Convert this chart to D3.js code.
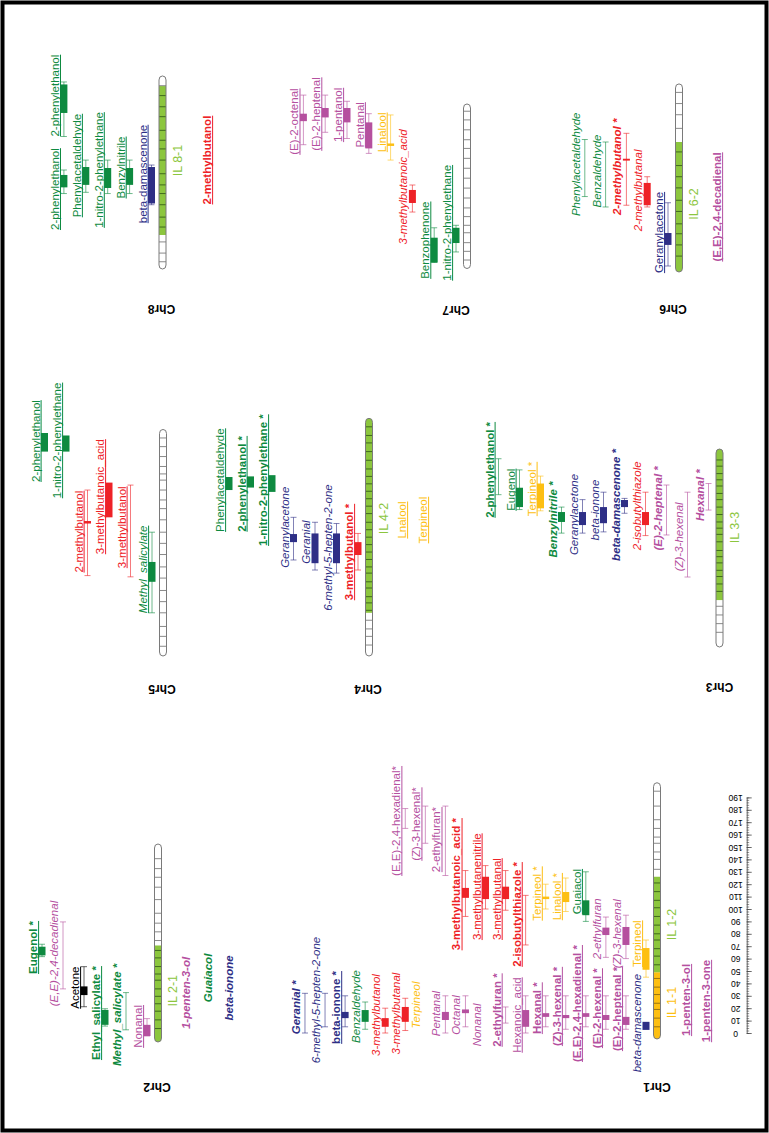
<!DOCTYPE html>
<html><head><meta charset="utf-8">
<script src="https://cdn.jsdelivr.net/npm/d3@7"></script>
<style>
body{margin:0;background:#fff}
svg{display:block}
text{font-family:"Liberation Sans",Arial,Helvetica,sans-serif}
</style>
</head><body>
<svg id="c" width="769" height="1133"></svg>
<script>
// ---------------- DATA (in cM) ----------------
const chromosomes = ["Chr1","Chr2","Chr3","Chr4","Chr5","Chr6","Chr7","Chr8"];
const chrLengths  = [197, 150, 150, 182, 173, 142, 123, 146];

// introgression lines: [chromosome, label, from cM, to cM, donor segment kind]
const introgressions = [
  ["Chr1","IL 1-1",0,49,"a"],
  ["Chr1","IL 1-2",49,126,"b"],
  ["Chr2","IL 2-1",0,73,"b"],
  ["Chr3","IL 3-3",33,150,"b"],
  ["Chr4","IL 4-2",30,182,"b"],
  ["Chr6","IL 6-2",0,100,"b"],
  ["Chr8","IL 8-1",22.6,142.7,"b"]
];

// marker positions (cM)
const markersChr1 = [5,12,19,24,31,37,44,55,62,68,75,80,87,94,101,107,114,121,132,140,146,153,158,165,172,183,195];
const markersChr2 = [6,13,20,26,32,38,45,50,56,63,69,77,84,91,99,110,120,128,135,143];
const markersChr3 = [7,14,21,28,40,46,52,57,63,68,73,80,86,91,96,102,108,114,119,125,130,135,141,146];
const markersChr4 = [4,11,17,24,32,38,43,50,55,62,67,73,79,85,91,97,103,110,116,122,128,134,140,146,153,160,167,173,180];
const markersChr5 = [3,11,19,30,39,48,58,67,77,86,95,105,114,121,129,137,142,148,156,164,171];
const markersChr6 = [8,17,26,34,44,53,63,72,81,92,111,122,131,140];
const markersChr7 = [2,9,16,24,30,37,44,52,60,68,76,84,92,99,107,115,122];
const markersChr8 = [1,8,17,29,37,47,56,63,72,83,92,99,107,118,126,135,143];

// QTLs: [column, label, compound class, significance code, box lo, box hi, whisker lo, whisker hi, label centre]
const qtlChr1 = [
  [0,"Geranial *","N","bi",null,null,0,32,20.6],
  [1,"6-methyl-5-hepten-2-one","N","i",null,null,5,32,26.6],
  [2,"beta-ionone *","N","bu",12,17,5,30,20.6],
  [3,"Benzaldehyde","G","i",9,18.5,3,25,21.4],
  [4,"3-methylbutanol","R","i",5,12,0,20,14.5],
  [5,"3-methylbutanal","R","i",9,21,2,28,15.7],
  [6,"Terpineol","O","i",null,null,null,null,22.6],
  [7,"Pentanal","M","i",10.5,17,0,30,15.7],
  [8,"Octanal","M","i",16,19,5,30,14.5],
  [9,"Nonanal","M","i",null,null,null,null,6.5],
  [10,"2-ethylfuran *","M","bu",null,null,8,21,18.5],
  [11,"Hexanoic_acid","M","u",5,18.5,0,30,14.5],
  [12,"Hexanal *","M","bu",13,16,5,30,20],
  [13,"(Z)-3-hexenal *","M","bu",12,14.5,3,30,21.4],
  [14,"(E,E)-2,4-hexadienal *","M","bu",13,16,5,30,23.8],
  [15,"(E)-2-hexenal *","M","bu",10.5,14.5,3,30,20],
  [16,"(E)-2-heptenal *","M","bu",6.5,13,3,30,19.4],
  [17,"beta-damascenone","N","i",2.5,9,null,null,8],
  [5,"(E,E)-2,4-hexadienal*","M","u",null,null,165,181,171],
  [6,"(Z)-3-hexenal*","M","u",null,null,153,183,168.5],
  [7,"2-ethylfuran*","M","u",null,null,127,183,156],
  [8,"3-methylbutanoic_acid *","R","bu",109,117,94,131,120],
  [9,"3-methylbutanenitrile","R","u",108,126,100,135,118],
  [10,"3-methylbutanal","R","u",108,118,99,131,108],
  [11,"2-isobutylthiazole *","R","bu",null,null,71,111,95.6],
  [12,"Terpineol *","O","u",108,110,100,120,112.5],
  [13,"Linalool *","O","u",105.6,113.7,98,125,110],
  [14,"Guaiacol","G","u",95,107,90,130,114],
  [15,"2-ethylfuran","M","i",79,85,61,93.5,84],
  [16,"(Z)-3-hexenal","M","i",71,85.5,60,95,80],
  [17,"Terpineol","O","u",51,68.5,45,75,72]
];
const qtlChr2 = [
  [0,"Eugenol *","G","bu",65,72,64,74,71.4],
  [1,"(E,E)-2,4-decadienal","M","i",null,null,38,92,66.5],
  [2,"Acetone","K","u",33,40,23.6,55.9,39],
  [3,"Ethyl_salicylate *","G","bu",9,21,8,22,18.5],
  [4,"Methyl_salicylate *","G","bi",null,null,5,35,17],
  [5,"Nonanal","M","u",0,9,0,14,7.7]
];
const qtlChr3 = [
  [0,"2-phenylethanol *","G","bu",null,null,118,147,138],
  [1,"Eugenol","G","u",108,123.6,106,138,122],
  [2,"Terpineol *","O","u",107,127,105,133,122.6],
  [3,"Benzylnitrile *","G","bi",96,104,87,108,98],
  [4,"Geranylacetone","N","i",93.5,104,87,114,102],
  [5,"beta-ionone","N","i",95,108,88,120,105.6],
  [6,"beta-damascenone *","N","bi",108,113.7,103,115,109.7],
  [7,"2-isobutylthiazole","R","i",93.5,104,85,120,109],
  [8,"(E)-2-heptenal *","M","bi",null,null,85.5,125.8,107],
  [9,"(Z)-3-hexenal","M","i",null,null,51.6,120,84],
  [10,"Hexanal *","M","bi",null,null,105.6,127,117.7]
];
const qtlChr4 = [
  [0,"Phenylacetaldehyde","G","u",129,139.5,null,null,137],
  [1,"2-phenylethanol *","G","bu",131,140,null,null,134],
  [2,"1-nitro-2-phenylethane *","G","bu",127.5,141,null,null,137],
  [3,"Geranylacetone","N","i",87,93.5,72.6,107,99],
  [4,"Geranial","N","i",70,94,64.5,103,87],
  [5,"6-methyl-5-hepten-2-one","N","i",70,94,62,102,82.6],
  [6,"3-methylbutanol *","R","bu",76.6,87,64.5,94,79]
];
const qtlChr5 = [
  [0,"2-phenylethanol","G","u",160,175,null,null,168.5],
  [1,"1-nitro-2-phenylethane","G","u",160,173,null,null,169],
  [2,"2-methylbutanol","R","u",102,104,60,129,95.4],
  [3,"3-methylbutanoic_acid","R","u",107,135,null,null,123.6],
  [4,"3-methylbutanol","R","u",null,null,59,133,99],
  [5,"Methyl_salicylate","G","iu",55,71,30,95,65]
];
const qtlChr6 = [
  [0,"Phenylacetaldehyde","G","i",null,null,56,102,82],
  [1,"Benzaldehyde","G","i",null,null,47.6,100,76.6],
  [2,"2-methylbutanol *","R","bi",85,86.5,49,107,80],
  [3,"2-methylbutanal","R","i",49,67,47.6,72,61],
  [4,"Geranylacetone","N","u",17,26.6,0,51,27]
];
const qtlChr7 = [
  [0,"(E)-2-octenal","M","u",114,120,95,135,113.6],
  [1,"(E)-2-heptenal","M","u",117,124.6,105,135,119.7],
  [2,"1-pentanol","M","u",113,124.6,100,130,119],
  [3,"Pentanal","M","u",92,113,88,120,111],
  [4,"Linalool","O","u",94,96,82.6,119,105],
  [5,"3-methylbutanoic_acid","R","i",48,58.5,40.7,62.5,61],
  [6,"Benzophenone","G","u",0,20,0,28,18],
  [7,"1-nitro-2-phenylethane","G","u",15.7,28,8.5,30,32]
];
const qtlChr8 = [
  [0,"2-phenylethanol","G","u",61,71,56,75,59.6],
  [0,"2-phenylethanol","G","u",121,144,102,146,135],
  [1,"Phenylacetaldehyde","G","u",63,77.4,57,83,78.6],
  [2,"1-nitro-2-phenylethane","G","u",60.5,76.6,56,83,75],
  [3,"Benzylnitrile","G","u",63,76.6,56,83,77],
  [4,"beta-damascenone","N","u",48,77.4,47,79,71.8]
];

// extra QTL labels on the right of chromosomes: [chromosome, label, class, code, label centre]
const extraLabels = [
  ["Chr1","1-penten-3-ol","M","bu",26.6],
  ["Chr1","1-penten-3-one","M","bu",25.8],
  ["Chr2","1-penten-3-ol","M","bi",34.7],
  ["Chr2","Guaiacol","G","bi",46.8],
  ["Chr2","beta-ionone","N","bi",38.7],
  ["Chr4","Lnalool","O","u",104.8],
  ["Chr4","Terpineol","O","u",104.8],
  ["Chr6","(E,E)-2,4-decadienal","M","bu",47.6],
  ["Chr8","2-methylbutanol","R","bu",83]
];

const scaleTickValues = [0,10,20,30,40,50,60,70,80,90,100,110,120,130,140,150,160,170,180,190];

// ---------------- LAYOUT & STYLE ----------------
const qtlByChr = {Chr1:qtlChr1,Chr2:qtlChr2,Chr3:qtlChr3,Chr4:qtlChr4,Chr5:qtlChr5,Chr6:qtlChr6,Chr7:qtlChr7,Chr8:qtlChr8};
const markersByChr = {Chr1:markersChr1,Chr2:markersChr2,Chr3:markersChr3,Chr4:markersChr4,Chr5:markersChr5,Chr6:markersChr6,Chr7:markersChr7,Chr8:markersChr8};
const layout = {
  Chr1:{x:657,  y0:1033, sp:20.06, ex:[29,49],      lx:0,   ly:1087},
  Chr2:{x:158,  y0:1036, sp:21,    ex:[28,49.5,71], lx:-1,  ly:1087},
  Chr3:{x:719.5,y0:641,  sp:21,    ex:[],           lx:0,   ly:687},
  Chr4:{x:369,  y0:650,  sp:21.5,  ex:[33,54],      lx:-1,  ly:689},
  Chr5:{x:163,  y0:650,  sp:21.5,  ex:[],           lx:-1,  ly:689},
  Chr6:{x:679,  y0:266,  sp:20.8,  ex:[38],         lx:-6,  ly:309},
  Chr7:{x:467,  y0:262.5,sp:21.8,  ex:[],           lx:-11, ly:310},
  Chr8:{x:162.5,y0:263,  sp:21.9,  ex:[44.5],       lx:-1,  ly:309}
};
const classColor = {G:"#0e8a40",N:"#2e2f86",R:"#ee2227",M:"#b5509f",O:"#fdbf12",K:"#000000"};
const ilColor = {a:"#fdbf12",b:"#8cc63e"};
const ilLine  = {a:"#9a7410",b:"#3f6b1c"};
const FS = 11.5, BW = 7, CAP = 6;

const svg = d3.select("#c");
svg.append("rect").attr("width",769).attr("height",1133).attr("fill","#fff");

const y = d3.scaleLinear().domain([0,190]).range([0,-190*1.24]);

function styleText(t, code, color, size){
  t.attr("fill",color).attr("font-size",size)
   .attr("font-weight",code.includes("b")?"bold":"normal")
   .attr("font-style",code.includes("i")?"italic":"normal");
}
function vLabel(parent, x, yc, label, code, color, size){
  const g = parent.append("g").attr("transform",`translate(${x},${yc}) rotate(-90)`);
  const t = g.append("text").attr("text-anchor","middle").attr("x",0).attr("y",0).text(label);
  styleText(t, code, color, size);
  if(code.includes("u")){
    const L = t.node().getComputedTextLength();
    g.append("line").attr("x1",-L/2).attr("x2",L/2).attr("y1",1.6).attr("y2",1.6)
     .attr("stroke",color).attr("stroke-width",1);
  }
  return g;
}

chromosomes.forEach((name,i)=>{
  const L = layout[name], len = chrLengths[i];
  const g = svg.append("g").attr("transform",`translate(${L.x},${L.y0})`);
  const top = y(len)-CAP, bot = y(0)+CAP;
  const clipId = "clip"+i;
  g.append("clipPath").attr("id",clipId).append("rect")
    .attr("x",-BW/2).attr("y",top).attr("width",BW).attr("height",bot-top).attr("rx",BW/2).attr("ry",4);
  const body = g.append("g").attr("clip-path",`url(#${clipId})`);
  body.append("rect").attr("x",-BW/2).attr("y",top).attr("width",BW).attr("height",bot-top).attr("fill","#fff");
  const segs = introgressions.filter(d=>d[0]===name);
  segs.forEach(s=>{
    const y1 = s[3]>=len ? top : y(s[3]);
    const y2 = s[2]<=0 ? bot : y(s[2]);
    body.append("rect").attr("x",-BW/2).attr("y",y1).attr("width",BW).attr("height",y2-y1).attr("fill",ilColor[s[4]]);
  });
  markersByChr[name].forEach(m=>{
    const seg = segs.find(s=>m>=s[2]&&m<=s[3]);
    body.append("line").attr("x1",-BW/2).attr("x2",BW/2).attr("y1",y(m)).attr("y2",y(m))
      .attr("stroke",seg?ilLine[seg[4]]:"#8a8a8a").attr("stroke-width",1);
  });
  g.append("rect").attr("x",-BW/2).attr("y",top).attr("width",BW).attr("height",bot-top)
    .attr("rx",BW/2).attr("ry",4).attr("fill","none").attr("stroke","#7a7a7a").attr("stroke-width",1);

  // IL labels
  segs.forEach(s=>{
    vLabel(g, 19, y((s[2]+s[3])/2), s[1], "", ilColor[s[4]], 12.5);
  });

  // QTLs
  const q = qtlByChr[name];
  const n = d3.max(q,d=>d[0])+1;
  const bc = col => -11 - (n-1-col)*L.sp;
  q.forEach(d=>{
    vLabel(g, bc(d[0])-5, y(d[8]), d[1], d[3], classColor[d[2]], FS);
  });
  q.forEach(d=>{
    const c = classColor[d[2]], x = bc(d[0]);
    if(d[6]!=null){
      g.append("line").attr("x1",x).attr("x2",x).attr("y1",y(d[6])).attr("y2",y(d[7]))
        .attr("stroke",c).attr("stroke-opacity",0.6).attr("stroke-width",1);
      [d[6],d[7]].forEach(v=>g.append("line").attr("x1",x-3).attr("x2",x+3).attr("y1",y(v)).attr("y2",y(v))
        .attr("stroke",c).attr("stroke-opacity",0.6).attr("stroke-width",1));
    }
    if(d[4]!=null){
      g.append("rect").attr("x",x-BW/2).attr("width",BW).attr("y",y(d[5])).attr("height",Math.max(1.5,y(d[4])-y(d[5])))
        .attr("fill",c);
    }
  });

  // extra labels
  extraLabels.filter(d=>d[0]===name).forEach((d,k)=>{
    vLabel(g, L.ex[k]+4, y(d[4]), d[1], d[3], classColor[d[2]], FS);
  });

  // chromosome name (rotated 180)
  svg.append("text").attr("transform",`translate(${L.x+L.lx},${L.ly}) rotate(180)`)
    .attr("text-anchor","middle").attr("dominant-baseline","central")
    .attr("font-size",12).attr("font-weight","bold").attr("fill","#000").text(name);
});

// cM ruler
const ruler = svg.append("g").attr("transform",`translate(746.7,${layout.Chr1.y0})`);
ruler.append("g").call(d3.axisRight(y).tickValues(d3.range(0,191,2)).tickSize(2.5).tickFormat(""))
  .call(a=>a.select(".domain").remove()).selectAll("line").attr("stroke","#444").attr("stroke-width",0.6);
const ax = ruler.append("g").call(d3.axisRight(y).tickValues(scaleTickValues).tickSize(5).tickSizeOuter(0).tickFormat(d3.format("d")));
ax.select(".domain").attr("stroke","#444").attr("stroke-width",0.8);
ax.selectAll("line").attr("stroke","#444").attr("stroke-width",0.8);
ax.selectAll("text").attr("x",null).attr("dy",null)
  .attr("transform","translate(-11,0) rotate(180)").attr("text-anchor","middle")
  .attr("dominant-baseline","central").attr("font-size",8.5)
  .attr("font-family","'Liberation Sans',Arial,sans-serif").attr("fill","#000");

// frame
svg.append("rect").attr("x",2.5).attr("y",2.5).attr("width",764).attr("height",1128)
  .attr("fill","none").attr("stroke","#000").attr("stroke-width",4);
</script>
</body></html>
